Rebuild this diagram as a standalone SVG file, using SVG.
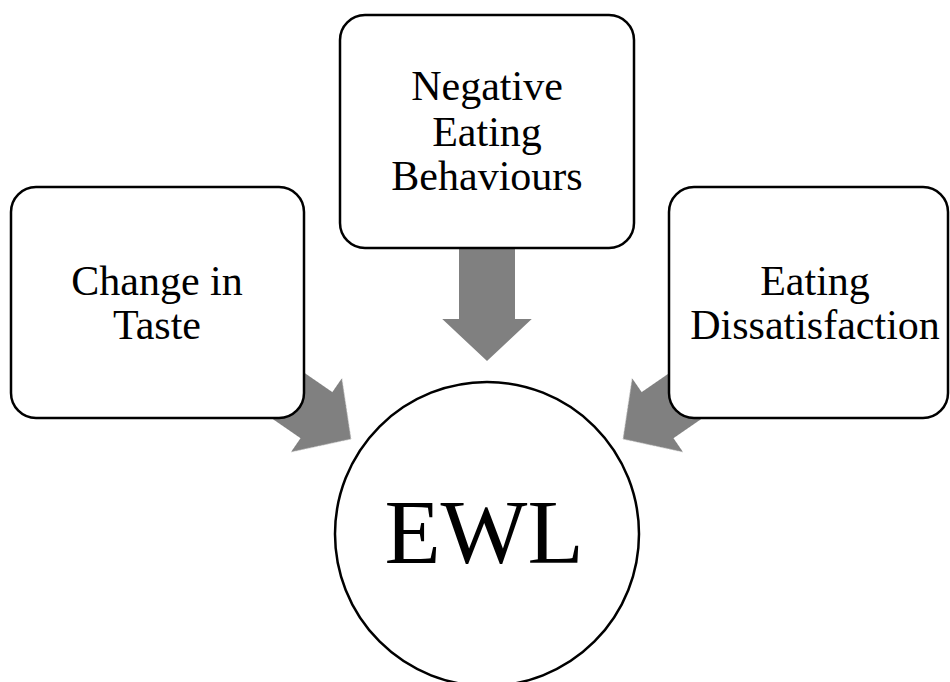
<svg xmlns="http://www.w3.org/2000/svg" width="950" height="682" viewBox="0 0 950 682">
<style>
.box{fill:#fff;stroke:#000;stroke-width:2.5}
.arr{fill:#808080;filter:url(#soft)}
.t{font-family:"Liberation Serif","Times New Roman",serif;font-size:42px;fill:#000;text-anchor:middle}
.big{font-family:"Liberation Serif","Times New Roman",serif;font-size:92px;fill:#000;text-anchor:middle}
</style>
<defs>
<filter id="soft" x="-10%" y="-10%" width="120%" height="120%"><feGaussianBlur stdDeviation="0.7"/></filter>
<polygon id="arrow" points="0,0 -42,-44.8 -42,-28 -120,-28 -120,28 -42,28 -42,44.8"/>
</defs>
<rect width="950" height="682" fill="#fff"/>
<g id="connectors">
<use href="#arrow" class="arr" transform="translate(351,439) rotate(34.6)"/>
<use href="#arrow" class="arr" transform="translate(487,361) rotate(90)"/>
<use href="#arrow" class="arr" transform="translate(623,439) rotate(145.4)"/>
</g>
<g id="node-change-in-taste">
<rect class="box" x="11" y="187" width="293" height="231" rx="25"/>
<text class="t" x="157" y="295">Change in</text>
<text class="t" x="157" y="339">Taste</text>
</g>
<g id="node-negative-eating-behaviours">
<rect class="box" x="340" y="15" width="294" height="233" rx="25"/>
<text class="t" x="487" y="100">Negative</text>
<text class="t" x="487" y="146">Eating</text>
<text class="t" x="487" y="190">Behaviours</text>
</g>
<g id="node-eating-dissatisfaction">
<rect class="box" x="669" y="187" width="279" height="231" rx="25"/>
<text class="t" x="815" y="295">Eating</text>
<text class="t" x="815" y="339">Dissatisfaction</text>
</g>
<g id="node-ewl">
<circle class="box" cx="487" cy="534" r="152"/>
<text class="big" x="484" y="563">EWL</text>
</g>
</svg>
